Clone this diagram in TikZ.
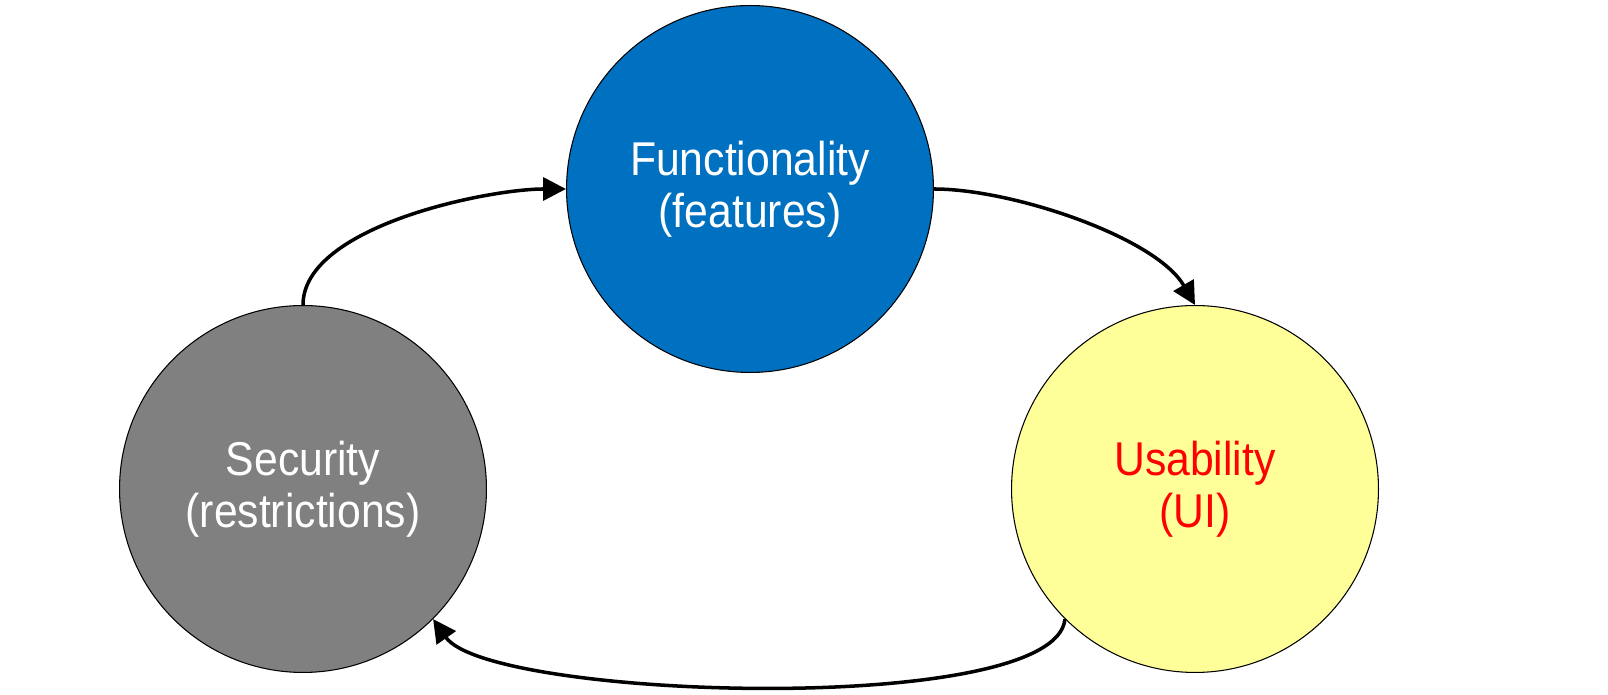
\documentclass[tikz,border=0pt]{standalone}
\usepackage{fontspec}
\setmainfont{Liberation Sans}
\newfontfamily\areafont[FakeStretch=0.9]{Liberation Sans}
\usetikzlibrary{arrows.meta}
\definecolor{funcblue}{HTML}{0070C0}
\definecolor{secgray}{HTML}{808080}
\definecolor{uiyellow}{HTML}{FFFF99}
\begin{document}
\begin{tikzpicture}[x=0.02cm, y=0.02cm,
		area/.style={circle, draw=black, line width=0.6pt, inner sep=0pt,
			minimum size=7.34cm, align=center, font=\areafont\fontsize{27}{29.5}\selectfont},
		flow/.style={line width=2pt, -{Triangle[length=0.46cm, width=0.46cm]}}]
	\useasboundingbox (0, 0) rectangle (1608, 695);
	\node[area, fill=funcblue, text=white] (func) at (750, 506) {Functionality\\(features)};
	\node[area, fill=secgray, text=white] (sec) at (303, 206) {Security\\(restrictions)};
	\node[area, fill=uiyellow, text=red] (ui) at (1195, 206) {Usability\\(UI)};
	\draw[flow] (sec.north) to[out=90, in=180, looseness=0.7] (func.west);
	\draw[flow] (func.east) to[out=0, in=120, looseness=0.7] (ui.north);
	\draw[flow] (ui.-135) to[out=-95, in=-55, looseness=0.4] (sec.-45);
\end{tikzpicture}
\end{document}
